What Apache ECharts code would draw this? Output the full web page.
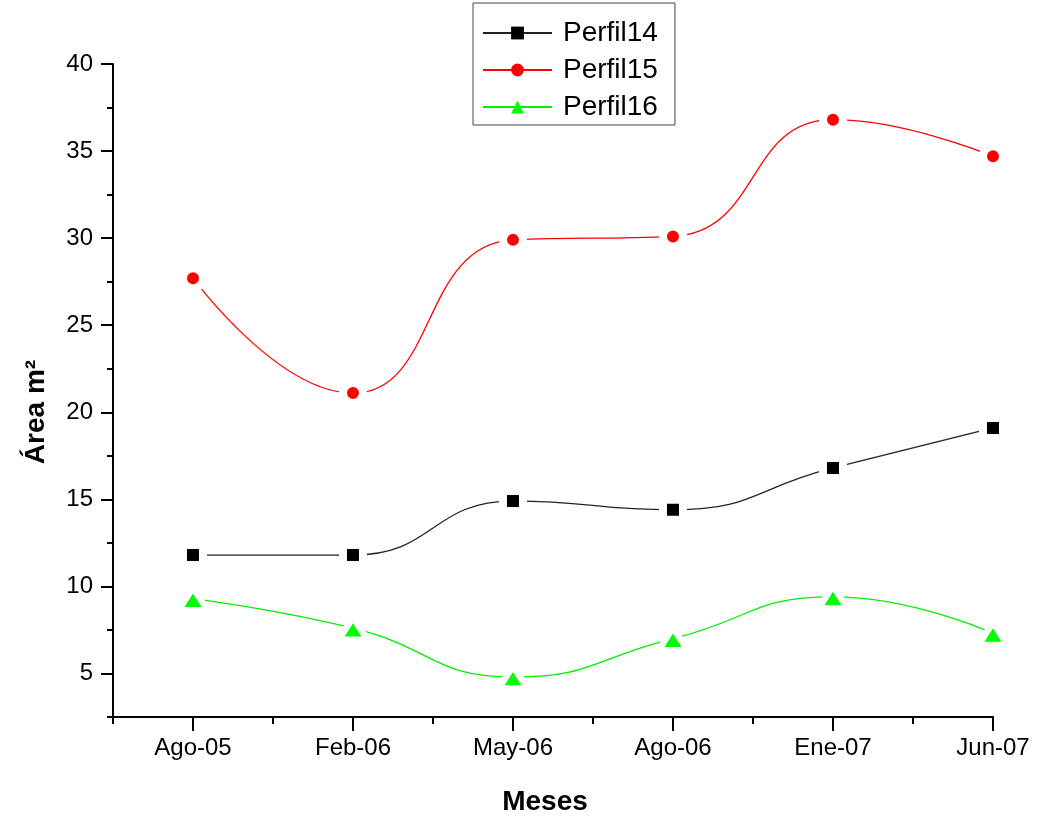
<!DOCTYPE html>
<html>
<head>
<meta charset="utf-8">
<script src="https://cdn.jsdelivr.net/npm/echarts@6/dist/echarts.min.js"></script>
<style>
  html, body { margin: 0; padding: 0; background: #ffffff; }
  #chart { width: 1040px; height: 823px; }
</style>
</head>
<body>
<div id="chart"></div>
<script>
// Months sampled along the x axis
const categories = ['Ago-05', 'Feb-06', 'May-06', 'Ago-06', 'Ene-07', 'Jun-07'];

// Cross-section area (m²) for each profile
const perfil14 = [11.8, 11.8, 14.9, 14.4, 16.8, 19.1];
const perfil15 = [27.7, 21.1, 29.9, 30.1, 36.8, 34.7];
const perfil16 = [9.3, 7.6, 4.8, 7.0, 9.4, 7.3];

// Labelled tick values
const yTickValues = [5, 10, 15, 20, 25, 30, 35, 40];
const xTickValues = categories.map((_, i) => i);

const FONT = "'Liberation Sans', Arial, sans-serif";

const toPoints = (arr) => arr.map((v, i) => [i, v]);

const axisLineStyle = { color: '#000', width: 2 };

function makeSeries(name, values, color, lineColor, symbol, size, border) {
  return {
    name: name,
    type: 'line',
    smooth: 0.5,
    xAxisIndex: 0,
    yAxisIndex: 0,
    data: toPoints(values),
    symbol: symbol,
    symbolSize: size,
    lineStyle: { color: lineColor, width: 1.3 },
    // white halo keeps the curve from touching each marker
    itemStyle: { color: color, borderColor: '#ffffff', borderWidth: border, borderJoin: 'round' },
    emphasis: { disabled: true },
    z: 3
  };
}

const chart = echarts.init(document.getElementById('chart'), null, { renderer: 'canvas' });

chart.setOption({
  animation: false,
  backgroundColor: '#ffffff',
  grid: { left: 113, right: 47, top: 64, bottom: 106, containLabel: false },
  legend: {
    left: 473,
    top: 3,
    orient: 'vertical',
    selectedMode: false,
    borderColor: '#444',
    borderWidth: 1,
    padding: [16, 17, 4, 9],
    itemWidth: 69,
    itemHeight: 16,
    itemGap: 9,
    textStyle: { fontFamily: FONT, fontSize: 28, color: '#000', padding: [0, 0, 0, 6], lineHeight: 26 },
    data: [
      { name: 'Perfil14', itemStyle: { borderWidth: 0 } },
      { name: 'Perfil15', itemStyle: { borderWidth: 0 } },
      { name: 'Perfil16', itemStyle: { borderWidth: 0 } }
    ]
  },
  xAxis: [
    {
      type: 'value',
      min: -0.5,
      max: 5,
      interval: 0.5,
      position: 'bottom',
      axisLine: { show: true, onZero: false, lineStyle: axisLineStyle },
      axisTick: { show: true, length: 7, lineStyle: { color: '#000', width: 2 } },
      axisLabel: { show: false },
      splitLine: { show: false }
    },
    {
      type: 'value',
      min: -0.5,
      max: 5,
      position: 'bottom',
      axisLine: { show: false, onZero: false },
      axisTick: { show: true, length: 14, customValues: xTickValues, lineStyle: { color: '#000', width: 2 } },
      axisLabel: {
        show: true,
        customValues: xTickValues,
        formatter: (v) => categories[Math.round(v)],
        margin: 19,
        fontFamily: FONT,
        fontSize: 24,
        color: '#000'
      },
      splitLine: { show: false }
    }
  ],
  yAxis: [
    {
      type: 'value',
      min: 2.5,
      max: 40,
      interval: 2.5,
      position: 'left',
      axisLine: { show: true, onZero: false, lineStyle: axisLineStyle },
      axisTick: { show: true, length: 6, lineStyle: { color: '#000', width: 2 } },
      axisLabel: { show: false },
      splitLine: { show: false }
    },
    {
      type: 'value',
      min: 2.5,
      max: 40,
      position: 'left',
      axisLine: { show: false, onZero: false },
      axisTick: { show: true, length: 12, customValues: yTickValues, lineStyle: { color: '#000', width: 2 } },
      axisLabel: {
        show: true,
        customValues: yTickValues,
        margin: 20,
        fontFamily: FONT,
        fontSize: 24,
        color: '#000'
      },
      splitLine: { show: false }
    }
  ],
  graphic: [
    {
      type: 'text',
      x: 36,
      y: 412,
      rotation: Math.PI / 2,
      style: {
        text: 'Área m²',
        font: 'bold 28px ' + FONT,
        fill: '#000',
        align: 'center',
        verticalAlign: 'middle'
      }
    },
    {
      type: 'text',
      x: 545,
      y: 802,
      style: {
        text: 'Meses',
        font: 'bold 28px ' + FONT,
        fill: '#000',
        align: 'center',
        verticalAlign: 'middle'
      }
    }
  ],
  series: [
    makeSeries('Perfil14', perfil14, '#000000', '#222222', 'rect', 20, 8),
    makeSeries('Perfil15', perfil15, '#ff0000', '#ff0000', 'circle', 20, 8),
    makeSeries('Perfil16', perfil16, '#00ff00', '#00ee00', 'triangle', [28, 22], 6)
  ]
});
</script>
</body>
</html>
